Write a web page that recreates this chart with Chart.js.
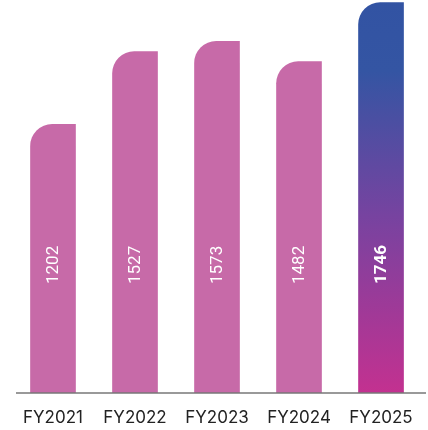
<!DOCTYPE html>
<html>
<head>
<meta charset="utf-8">
<script src="https://cdn.jsdelivr.net/npm/chart.js@4/dist/chart.umd.min.js"></script>
<style>
  html, body { margin: 0; padding: 0; background: #ffffff; }
  #wrap { width: 428px; height: 430px; }
</style>
</head>
<body>
<div id="wrap"><canvas id="c" width="428" height="430"></canvas></div>
<script>
// Revenue by fiscal year
const years = ['FY2021', 'FY2022', 'FY2023', 'FY2024', 'FY2025'];
const revenue = [1202, 1527, 1573, 1482, 1746];
const highlightIndex = 4;

const barPink = '#C76AA8';

function highlightGradient(chart) {
  const area = chart.chartArea;
  if (!area) return barPink;
  const g = chart.ctx.createLinearGradient(0, area.top, 0, area.bottom);
  g.addColorStop(0, '#3253A3');
  g.addColorStop(0.18, '#3455A3');
  g.addColorStop(0.55, '#7743A0');
  g.addColorStop(1, '#C33190');
  return g;
}

// Rotated value labels inside the bars plus the baseline rule
const barLabels = {
  id: 'barLabels',
  afterDatasetsDraw(chart) {
    const ctx = chart.ctx;
    const meta = chart.getDatasetMeta(0);
    const base = chart.scales.y.getPixelForValue(0);
    ctx.save();
    meta.data.forEach((bar, i) => {
      ctx.save();
      ctx.translate(bar.x, base - 109);
      ctx.rotate(-Math.PI / 2);
      ctx.fillStyle = '#ffffff';
      ctx.textAlign = 'left';
      ctx.textBaseline = 'middle';
      ctx.font = (i === highlightIndex ? '700 ' : '400 ') + '17px Roboto';
      ctx.fillText(String(revenue[i]), 0, 1);
      ctx.restore();
    });
    ctx.strokeStyle = '#777777';
    ctx.lineWidth = 1.5;
    ctx.beginPath();
    ctx.moveTo(16, base);
    ctx.lineTo(426, base);
    ctx.stroke();
    ctx.restore();
  }
};

new Chart(document.getElementById('c'), {
  type: 'bar',
  data: {
    labels: years,
    datasets: [{
      data: revenue,
      backgroundColor: (c) => c.dataIndex === highlightIndex ? highlightGradient(c.chart) : barPink,
      borderWidth: 0,
      borderRadius: { topLeft: 22, topRight: 0, bottomLeft: 0, bottomRight: 0 },
      borderSkipped: false,
      barThickness: 45
    }]
  },
  options: {
    responsive: false,
    animation: false,
    layout: { padding: { left: 12, right: 3, top: 0, bottom: 0 } },
    plugins: { legend: { display: false }, tooltip: { enabled: false } },
    scales: {
      x: {
        grid: { display: false, drawTicks: false },
        border: { display: false },
        ticks: {
          color: '#222222',
          padding: 15,
          font: { family: 'Inter', size: 17, weight: '400' }
        },
        afterFit(scale) { scale.height = 37; }
      },
      y: {
        display: false,
        min: 0,
        max: 1758
      }
    }
  },
  plugins: [barLabels]
});
</script>
</body>
</html>
